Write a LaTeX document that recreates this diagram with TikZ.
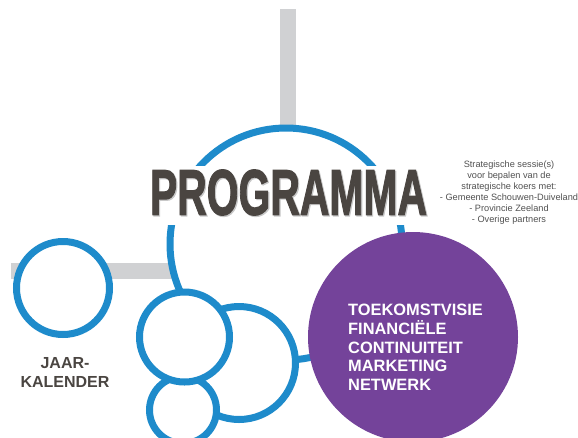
\documentclass[tikz,border=0pt]{standalone}
\usepackage{fontspec}
\usepackage{graphicx}
\setmainfont{Liberation Sans}
\newfontfamily\progfont[FakeBold=2]{Liberation Sans}
\definecolor{ringblue}{RGB}{30,139,203}
\definecolor{bargray}{RGB}{208,209,211}
\definecolor{purp}{RGB}{116,67,154}
\definecolor{darktext}{RGB}{74,69,65}
\definecolor{smalltext}{RGB}{80,80,80}
\definecolor{shadowgray}{RGB}{200,200,200}
\pgfdeclarelayer{background}
\pgfsetlayers{background,main}
\tikzset{
  ring/.style={circle, draw=ringblue, line width=7pt, fill=white, inner sep=0pt, minimum size=#1},
  bigdisc/.style={circle, fill=purp, inner sep=0pt, minimum size=#1},
  bar/.style={draw=bargray, line width=16pt},
  link/.style={draw=ringblue, line width=7pt},
  ptext/.style={text=white, align=left, inner sep=0pt, font=\bfseries\fontsize{16.4}{18.75}\selectfont},
  jtext/.style={text=darktext, align=center, inner sep=0pt, font=\bfseries\fontsize{16}{19}\selectfont},
  stext/.style={text=smalltext, align=center, inner sep=0pt, font=\fontsize{9.2}{11}\selectfont},
  progtext/.style={inner sep=0pt}
}
\begin{document}
\begin{tikzpicture}[x=1pt,y=-1pt]
\useasboundingbox (0,0) rectangle (578,437);
% circles
\node[ring=232] (big) at (286,244) {};
\node[bigdisc=210] (pur) at (413,337) {};
\node[ring=93] (jaar) at (63,288) {};
\node[ring=113] (m2) at (239,363) {};
\node[ring=67] (s) at (183,410) {};
\node[ring=90] (m1) at (184.5,337) {};
\coordinate (vtop) at (288,9);
\coordinate (hleft) at (11,271);
\begin{pgfonlayer}{background}
  \draw[bar] (vtop) -- (vtop |- big.center);
  \draw[bar] (hleft) -- (hleft -| big.center);
  \draw[link] (m2.center) -- (pur.center);
\end{pgfonlayer}
% title
\fill[white] (145,166) rectangle (432,225);
\node[progtext, text=shadowgray] (progshadow) at (289.7,193.7) {\resizebox{277pt}{45pt}{\progfont\bfseries PROGRAMMA}};
\node[progtext, text=darktext] (prog) at (288.5,192.5) {\resizebox{277pt}{45pt}{\progfont\bfseries PROGRAMMA}};
% texts
\node[stext] (strat) at (509,192.5) {Strategische sessie(s)\\voor bepalen van de\\strategische koers met:\\- Gemeente Schouwen-Duiveland\\- Provincie Zeeland\\- Overige partners};
\node[jtext] (jtxt) at (65,372.5) {JAAR-\\KALENDER};
\node[ptext, anchor=west] (ptxt) at (348,347.5) {TOEKOMSTVISIE\\FINANCIËLE\\CONTINUITEIT\\MARKETING\\NETWERK};
\end{tikzpicture}
\end{document}
